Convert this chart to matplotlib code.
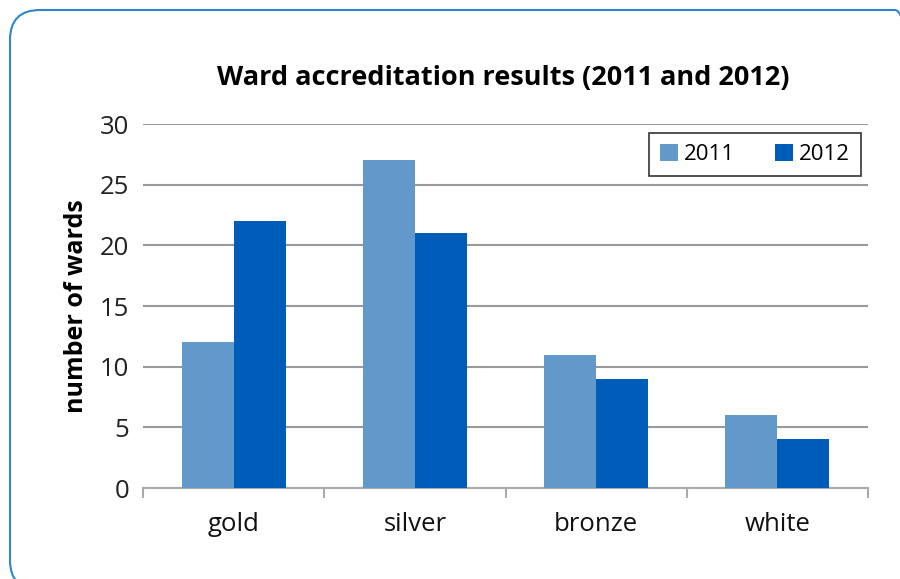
import matplotlib
matplotlib.use("Agg")
import matplotlib.pyplot as plt
from matplotlib.patches import FancyBboxPatch
from matplotlib.transforms import IdentityTransform
import numpy as np

categories = ["gold", "silver", "bronze", "white"]
series_names = ["2011", "2012"]
values_2011 = [12, 27, 11, 6]
values_2012 = [22, 21, 9, 4]
yticks = [0, 5, 10, 15, 20, 25, 30]

c2011 = "#6398CA"
c2012 = "#005CB9"

plt.rcParams['font.family'] = ['Open Sans', 'DejaVu Sans']

W, H = 900, 579
fig = plt.figure(figsize=(W/100, H/100), dpi=100)

# rounded frame (pixel coordinates, origin bottom-left)
frame = FancyBboxPatch((10, -11), 915, 580,
                       boxstyle="round,pad=0,rounding_size=30",
                       transform=IdentityTransform(), fill=False,
                       edgecolor="#2F86CB", linewidth=1.5)
fig.patches.append(frame)

ax = fig.add_axes([143/W, 1 - 488/H, (868-143)/W, (488-124)/H])
x = np.arange(len(categories))
bw = 0.287
ax.bar(x - bw/2, values_2011, bw, color=c2011, label=series_names[0], zorder=3)
ax.bar(x + bw/2, values_2012, bw, color=c2012, label=series_names[1], zorder=3)

ax.set_xlim(-0.5, len(categories) - 0.5)
ax.set_ylim(0, 30)
ax.set_yticks(yticks)
ax.yaxis.grid(True, color="#999999", linewidth=1.5, zorder=0)
ax.set_axisbelow(True)
for s in ["top", "right", "left"]:
    ax.spines[s].set_visible(False)
ax.spines["bottom"].set_color("#AAAAAA")
ax.spines["bottom"].set_linewidth(1.5)
ax.tick_params(axis="y", length=0, pad=10, labelsize=18.5, colors="#222222")
ax.set_xticks(x)
ax.set_xticklabels(categories)
ax.tick_params(axis="x", length=0, pad=17, labelsize=18.5, colors="#111111")
ax.set_xticks(np.arange(-0.5, len(categories)), minor=True)
ax.tick_params(axis="x", which="minor", length=7, width=1.5, color="#AAAAAA")

ax.set_ylabel("number of wards", fontsize=18, fontweight="bold", labelpad=8)
fig.text(503/W, 1 - 78/H, "Ward accreditation results (2011 and 2012)",
         ha="center", va="center", fontsize=19.5, fontweight="bold")

leg = ax.legend(loc="upper right", bbox_to_anchor=(861/W, 1 - 133/H),
                bbox_transform=fig.transFigure, ncol=2, frameon=True,
                fancybox=False, edgecolor="black", fontsize=16,
                handlelength=0.8, handleheight=0.8, handletextpad=0.27,
                columnspacing=1.8, borderpad=0.5, borderaxespad=0)
leg.get_frame().set_linewidth(1.2)

fig.savefig("out.png", dpi=100)
